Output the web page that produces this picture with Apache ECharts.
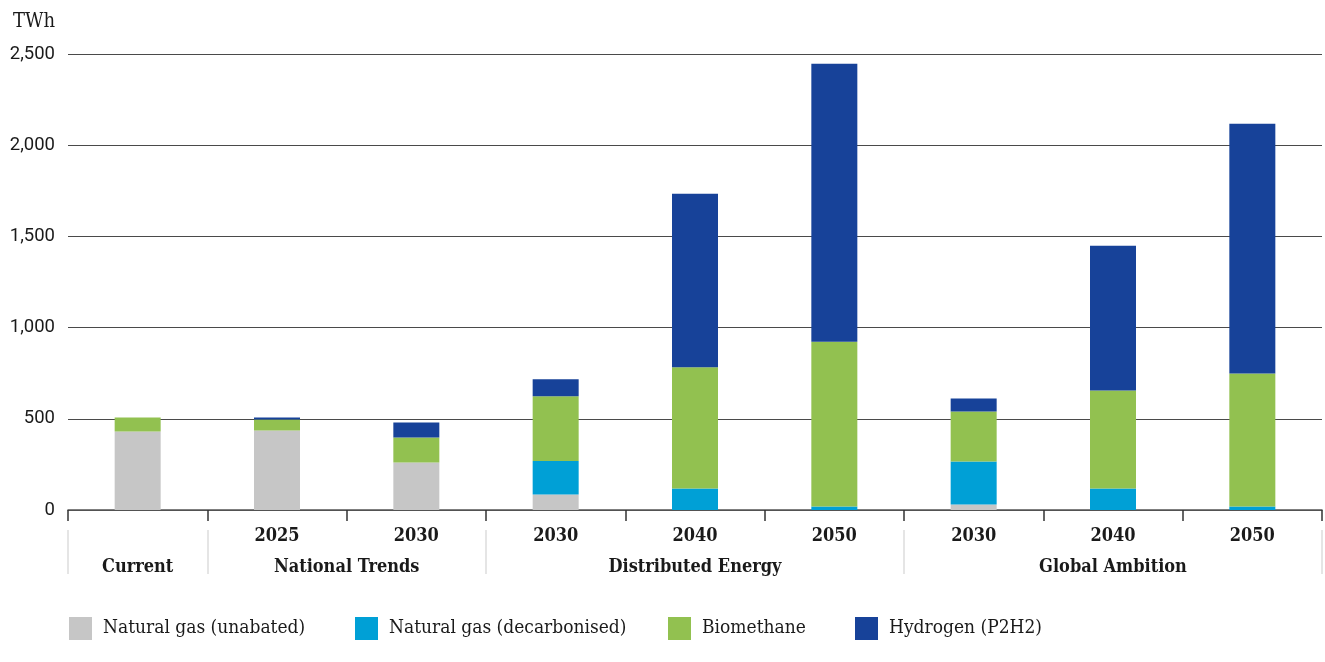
<!DOCTYPE html>
<html>
<head>
<meta charset="utf-8">
<script src="https://cdn.jsdelivr.net/npm/echarts@6/dist/echarts.min.js"></script>
<style>html,body{margin:0;padding:0;background:#fff}#c{width:1325px;height:662px}</style>
</head>
<body>
<div id="c"></div>
<script>
var categories = ['Current', 'NT 2025', 'NT 2030', 'DE 2030', 'DE 2040', 'DE 2050', 'GA 2030', 'GA 2040', 'GA 2050'];
var yearLabels = ['', '2025', '2030', '2030', '2040', '2050', '2030', '2040', '2050'];
var groupLabels = ['', 'Current', '', '', 'National Trends', '', '', '', '', 'Distributed Energy', '', '', '', '', '', 'Global Ambition', '', '', ''];
var groupBoundaries = [0, 2, 6, 12, 18];
var seriesNames = ['Natural gas (unabated)', 'Natural gas (decarbonised)', 'Biomethane', 'Hydrogen (P2H2)'];
var unabated = [430, 436, 260, 85, 0, 0, 30, 0, 0];
var decarbonised = [0, 0, 0, 183, 118, 19, 236, 118, 19];
var biomethane = [77, 60, 137, 356, 664, 904, 274, 537, 729];
var hydrogen = [0, 11, 83, 93, 952, 1524, 71, 794, 1370];
var yTicks = [0, 500, 1000, 1500, 2000, 2500];

var colors = ['#c6c6c6', '#00a0d6', '#92c150', '#174299'];
var serif = '"DejaVu Serif Condensed", "DejaVu Serif", serif';
var values = [unabated, decarbonised, biomethane, hydrogen];
var legendLeft = [69, 355, 668, 855];

var chart = echarts.init(document.getElementById('c'));
chart.setOption({
  animation: false,
  title: {
    text: 'TWh', left: 8, top: 7,
    textStyle: { fontFamily: serif, fontWeight: 'normal', fontSize: 20, color: '#1a1a1a' }
  },
  legend: seriesNames.map(function (n, i) {
    return {
      data: [n], left: legendLeft[i], top: 617, padding: 0,
      icon: 'rect', itemWidth: 23, itemHeight: 23,
      textStyle: { fontFamily: serif, fontSize: 19, color: '#1a1a1a', padding: [0, 0, 0, 6] }
    };
  }),
  grid: { left: 68, right: 2, top: 54, bottom: 152, containLabel: false },
  xAxis: [{
    type: 'category',
    data: yearLabels,
    axisLine: { show: true, lineStyle: { color: '#555', width: 1.5 } },
    axisTick: { show: true, length: 11, lineStyle: { color: '#333', width: 1.5 } },
    axisLabel: { margin: 17, fontFamily: serif, fontWeight: 'bold', fontSize: 18, color: '#1a1a1a', interval: 0 }
  }, {
    type: 'category',
    boundaryGap: false,
    data: groupLabels,
    position: 'bottom',
    offset: 20,
    axisLine: { show: false },
    axisTick: {
      show: true, length: 44, inside: false,
      interval: function (idx) { return groupBoundaries.indexOf(idx) >= 0; },
      lineStyle: { color: '#dddddd', width: 1.5 }
    },
    axisLabel: { margin: 28, fontFamily: serif, fontWeight: 'bold', fontSize: 18, color: '#1a1a1a', interval: 0 }
  }],
  yAxis: {
    type: 'value', min: yTicks[0], max: yTicks[yTicks.length - 1], interval: 500,
    axisLine: { show: false }, axisTick: { show: false },
    splitLine: { lineStyle: { color: '#4a4a4a', width: 1.2 } },
    axisLabel: {
      margin: 13, fontFamily: 'Roboto, "Liberation Sans", sans-serif', fontSize: 18.5, color: '#1a1a1a',
      formatter: function (v) { return v.toLocaleString('en-US'); }
    }
  },
  series: seriesNames.map(function (n, i) {
    return {
      name: n, type: 'bar', stack: 'total', barWidth: 46,
      xAxisIndex: 0,
      itemStyle: { color: colors[i] },
      data: values[i]
    };
  })
});
</script>
</body>
</html>
